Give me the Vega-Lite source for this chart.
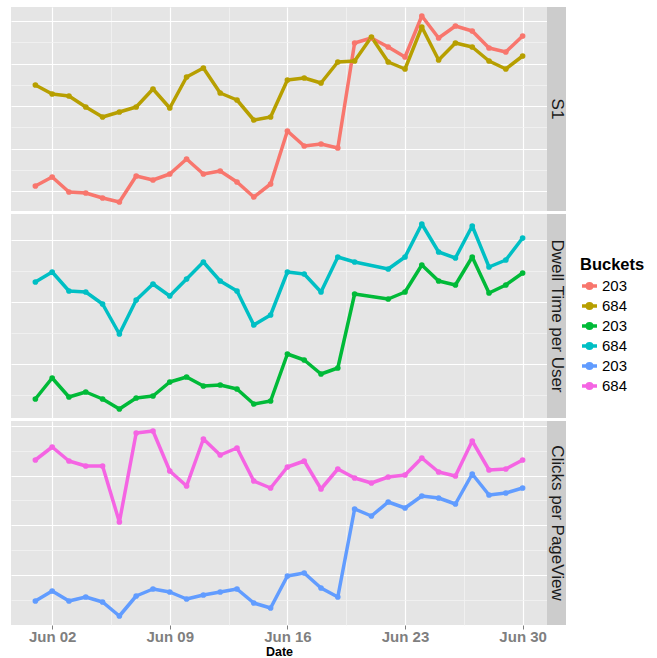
{
  "$schema": "https://vega.github.io/schema/vega-lite/v6.json",
  "padding": {"left": 11, "top": 7, "right": 5, "bottom": 0},
  "background": "white",
  "config": {
    "font": "Liberation Sans",
    "view": {"stroke": null},
    "concat": {"spacing": 3}
  },
  "datasets": {
    "d": [
      {"metric":"S1","bucket":"203","series":"S1 203","date":"2013-06-01","value":25},
      {"metric":"S1","bucket":"203","series":"S1 203","date":"2013-06-02","value":34},
      {"metric":"S1","bucket":"203","series":"S1 203","date":"2013-06-03","value":19},
      {"metric":"S1","bucket":"203","series":"S1 203","date":"2013-06-04","value":18},
      {"metric":"S1","bucket":"203","series":"S1 203","date":"2013-06-05","value":13},
      {"metric":"S1","bucket":"203","series":"S1 203","date":"2013-06-06","value":9},
      {"metric":"S1","bucket":"203","series":"S1 203","date":"2013-06-07","value":35},
      {"metric":"S1","bucket":"203","series":"S1 203","date":"2013-06-08","value":31},
      {"metric":"S1","bucket":"203","series":"S1 203","date":"2013-06-09","value":37},
      {"metric":"S1","bucket":"203","series":"S1 203","date":"2013-06-10","value":52},
      {"metric":"S1","bucket":"203","series":"S1 203","date":"2013-06-11","value":37},
      {"metric":"S1","bucket":"203","series":"S1 203","date":"2013-06-12","value":40},
      {"metric":"S1","bucket":"203","series":"S1 203","date":"2013-06-13","value":29},
      {"metric":"S1","bucket":"203","series":"S1 203","date":"2013-06-14","value":14},
      {"metric":"S1","bucket":"203","series":"S1 203","date":"2013-06-15","value":27},
      {"metric":"S1","bucket":"203","series":"S1 203","date":"2013-06-16","value":80},
      {"metric":"S1","bucket":"203","series":"S1 203","date":"2013-06-17","value":65},
      {"metric":"S1","bucket":"203","series":"S1 203","date":"2013-06-18","value":67},
      {"metric":"S1","bucket":"203","series":"S1 203","date":"2013-06-19","value":63},
      {"metric":"S1","bucket":"203","series":"S1 203","date":"2013-06-20","value":168},
      {"metric":"S1","bucket":"203","series":"S1 203","date":"2013-06-21","value":173},
      {"metric":"S1","bucket":"203","series":"S1 203","date":"2013-06-22","value":164},
      {"metric":"S1","bucket":"203","series":"S1 203","date":"2013-06-23","value":154},
      {"metric":"S1","bucket":"203","series":"S1 203","date":"2013-06-24","value":195},
      {"metric":"S1","bucket":"203","series":"S1 203","date":"2013-06-25","value":173},
      {"metric":"S1","bucket":"203","series":"S1 203","date":"2013-06-26","value":185},
      {"metric":"S1","bucket":"203","series":"S1 203","date":"2013-06-27","value":180},
      {"metric":"S1","bucket":"203","series":"S1 203","date":"2013-06-28","value":163},
      {"metric":"S1","bucket":"203","series":"S1 203","date":"2013-06-29","value":159},
      {"metric":"S1","bucket":"203","series":"S1 203","date":"2013-06-30","value":175},
      {"metric":"S1","bucket":"684","series":"S1 684","date":"2013-06-01","value":126},
      {"metric":"S1","bucket":"684","series":"S1 684","date":"2013-06-02","value":117},
      {"metric":"S1","bucket":"684","series":"S1 684","date":"2013-06-03","value":115},
      {"metric":"S1","bucket":"684","series":"S1 684","date":"2013-06-04","value":104},
      {"metric":"S1","bucket":"684","series":"S1 684","date":"2013-06-05","value":94},
      {"metric":"S1","bucket":"684","series":"S1 684","date":"2013-06-06","value":99},
      {"metric":"S1","bucket":"684","series":"S1 684","date":"2013-06-07","value":104},
      {"metric":"S1","bucket":"684","series":"S1 684","date":"2013-06-08","value":122},
      {"metric":"S1","bucket":"684","series":"S1 684","date":"2013-06-09","value":103},
      {"metric":"S1","bucket":"684","series":"S1 684","date":"2013-06-10","value":134},
      {"metric":"S1","bucket":"684","series":"S1 684","date":"2013-06-11","value":143},
      {"metric":"S1","bucket":"684","series":"S1 684","date":"2013-06-12","value":118},
      {"metric":"S1","bucket":"684","series":"S1 684","date":"2013-06-13","value":111},
      {"metric":"S1","bucket":"684","series":"S1 684","date":"2013-06-14","value":91},
      {"metric":"S1","bucket":"684","series":"S1 684","date":"2013-06-15","value":94},
      {"metric":"S1","bucket":"684","series":"S1 684","date":"2013-06-16","value":131},
      {"metric":"S1","bucket":"684","series":"S1 684","date":"2013-06-17","value":133},
      {"metric":"S1","bucket":"684","series":"S1 684","date":"2013-06-18","value":128},
      {"metric":"S1","bucket":"684","series":"S1 684","date":"2013-06-19","value":149},
      {"metric":"S1","bucket":"684","series":"S1 684","date":"2013-06-20","value":150},
      {"metric":"S1","bucket":"684","series":"S1 684","date":"2013-06-21","value":174},
      {"metric":"S1","bucket":"684","series":"S1 684","date":"2013-06-22","value":149},
      {"metric":"S1","bucket":"684","series":"S1 684","date":"2013-06-23","value":142},
      {"metric":"S1","bucket":"684","series":"S1 684","date":"2013-06-24","value":184},
      {"metric":"S1","bucket":"684","series":"S1 684","date":"2013-06-25","value":151},
      {"metric":"S1","bucket":"684","series":"S1 684","date":"2013-06-26","value":168},
      {"metric":"S1","bucket":"684","series":"S1 684","date":"2013-06-27","value":164},
      {"metric":"S1","bucket":"684","series":"S1 684","date":"2013-06-28","value":150},
      {"metric":"S1","bucket":"684","series":"S1 684","date":"2013-06-29","value":142},
      {"metric":"S1","bucket":"684","series":"S1 684","date":"2013-06-30","value":155},
      {"metric":"Dwell","bucket":"203","series":"Dwell 203","date":"2013-06-01","value":19},
      {"metric":"Dwell","bucket":"203","series":"Dwell 203","date":"2013-06-02","value":40},
      {"metric":"Dwell","bucket":"203","series":"Dwell 203","date":"2013-06-03","value":21},
      {"metric":"Dwell","bucket":"203","series":"Dwell 203","date":"2013-06-04","value":26},
      {"metric":"Dwell","bucket":"203","series":"Dwell 203","date":"2013-06-05","value":19},
      {"metric":"Dwell","bucket":"203","series":"Dwell 203","date":"2013-06-06","value":9},
      {"metric":"Dwell","bucket":"203","series":"Dwell 203","date":"2013-06-07","value":20},
      {"metric":"Dwell","bucket":"203","series":"Dwell 203","date":"2013-06-08","value":22},
      {"metric":"Dwell","bucket":"203","series":"Dwell 203","date":"2013-06-09","value":36},
      {"metric":"Dwell","bucket":"203","series":"Dwell 203","date":"2013-06-10","value":41},
      {"metric":"Dwell","bucket":"203","series":"Dwell 203","date":"2013-06-11","value":32},
      {"metric":"Dwell","bucket":"203","series":"Dwell 203","date":"2013-06-12","value":33},
      {"metric":"Dwell","bucket":"203","series":"Dwell 203","date":"2013-06-13","value":29},
      {"metric":"Dwell","bucket":"203","series":"Dwell 203","date":"2013-06-14","value":14},
      {"metric":"Dwell","bucket":"203","series":"Dwell 203","date":"2013-06-15","value":17},
      {"metric":"Dwell","bucket":"203","series":"Dwell 203","date":"2013-06-16","value":64},
      {"metric":"Dwell","bucket":"203","series":"Dwell 203","date":"2013-06-17","value":58},
      {"metric":"Dwell","bucket":"203","series":"Dwell 203","date":"2013-06-18","value":44},
      {"metric":"Dwell","bucket":"203","series":"Dwell 203","date":"2013-06-19","value":50},
      {"metric":"Dwell","bucket":"203","series":"Dwell 203","date":"2013-06-20","value":124},
      {"metric":"Dwell","bucket":"203","series":"Dwell 203","date":"2013-06-22","value":119},
      {"metric":"Dwell","bucket":"203","series":"Dwell 203","date":"2013-06-23","value":126},
      {"metric":"Dwell","bucket":"203","series":"Dwell 203","date":"2013-06-24","value":153},
      {"metric":"Dwell","bucket":"203","series":"Dwell 203","date":"2013-06-25","value":137},
      {"metric":"Dwell","bucket":"203","series":"Dwell 203","date":"2013-06-26","value":133},
      {"metric":"Dwell","bucket":"203","series":"Dwell 203","date":"2013-06-27","value":161},
      {"metric":"Dwell","bucket":"203","series":"Dwell 203","date":"2013-06-28","value":125},
      {"metric":"Dwell","bucket":"203","series":"Dwell 203","date":"2013-06-29","value":133},
      {"metric":"Dwell","bucket":"203","series":"Dwell 203","date":"2013-06-30","value":145},
      {"metric":"Dwell","bucket":"684","series":"Dwell 684","date":"2013-06-01","value":136},
      {"metric":"Dwell","bucket":"684","series":"Dwell 684","date":"2013-06-02","value":146},
      {"metric":"Dwell","bucket":"684","series":"Dwell 684","date":"2013-06-03","value":127},
      {"metric":"Dwell","bucket":"684","series":"Dwell 684","date":"2013-06-04","value":126},
      {"metric":"Dwell","bucket":"684","series":"Dwell 684","date":"2013-06-05","value":114},
      {"metric":"Dwell","bucket":"684","series":"Dwell 684","date":"2013-06-06","value":84},
      {"metric":"Dwell","bucket":"684","series":"Dwell 684","date":"2013-06-07","value":118},
      {"metric":"Dwell","bucket":"684","series":"Dwell 684","date":"2013-06-08","value":134},
      {"metric":"Dwell","bucket":"684","series":"Dwell 684","date":"2013-06-09","value":122},
      {"metric":"Dwell","bucket":"684","series":"Dwell 684","date":"2013-06-10","value":139},
      {"metric":"Dwell","bucket":"684","series":"Dwell 684","date":"2013-06-11","value":156},
      {"metric":"Dwell","bucket":"684","series":"Dwell 684","date":"2013-06-12","value":137},
      {"metric":"Dwell","bucket":"684","series":"Dwell 684","date":"2013-06-13","value":127},
      {"metric":"Dwell","bucket":"684","series":"Dwell 684","date":"2013-06-14","value":93},
      {"metric":"Dwell","bucket":"684","series":"Dwell 684","date":"2013-06-15","value":103},
      {"metric":"Dwell","bucket":"684","series":"Dwell 684","date":"2013-06-16","value":146},
      {"metric":"Dwell","bucket":"684","series":"Dwell 684","date":"2013-06-17","value":144},
      {"metric":"Dwell","bucket":"684","series":"Dwell 684","date":"2013-06-18","value":126},
      {"metric":"Dwell","bucket":"684","series":"Dwell 684","date":"2013-06-19","value":161},
      {"metric":"Dwell","bucket":"684","series":"Dwell 684","date":"2013-06-20","value":156},
      {"metric":"Dwell","bucket":"684","series":"Dwell 684","date":"2013-06-22","value":149},
      {"metric":"Dwell","bucket":"684","series":"Dwell 684","date":"2013-06-23","value":161},
      {"metric":"Dwell","bucket":"684","series":"Dwell 684","date":"2013-06-24","value":194},
      {"metric":"Dwell","bucket":"684","series":"Dwell 684","date":"2013-06-25","value":166},
      {"metric":"Dwell","bucket":"684","series":"Dwell 684","date":"2013-06-26","value":160},
      {"metric":"Dwell","bucket":"684","series":"Dwell 684","date":"2013-06-27","value":192},
      {"metric":"Dwell","bucket":"684","series":"Dwell 684","date":"2013-06-28","value":151},
      {"metric":"Dwell","bucket":"684","series":"Dwell 684","date":"2013-06-29","value":158},
      {"metric":"Dwell","bucket":"684","series":"Dwell 684","date":"2013-06-30","value":180},
      {"metric":"Clicks","bucket":"203","series":"Clicks 203","date":"2013-06-01","value":24},
      {"metric":"Clicks","bucket":"203","series":"Clicks 203","date":"2013-06-02","value":34},
      {"metric":"Clicks","bucket":"203","series":"Clicks 203","date":"2013-06-03","value":24},
      {"metric":"Clicks","bucket":"203","series":"Clicks 203","date":"2013-06-04","value":28},
      {"metric":"Clicks","bucket":"203","series":"Clicks 203","date":"2013-06-05","value":23},
      {"metric":"Clicks","bucket":"203","series":"Clicks 203","date":"2013-06-06","value":9},
      {"metric":"Clicks","bucket":"203","series":"Clicks 203","date":"2013-06-07","value":29},
      {"metric":"Clicks","bucket":"203","series":"Clicks 203","date":"2013-06-08","value":36},
      {"metric":"Clicks","bucket":"203","series":"Clicks 203","date":"2013-06-09","value":33},
      {"metric":"Clicks","bucket":"203","series":"Clicks 203","date":"2013-06-10","value":26},
      {"metric":"Clicks","bucket":"203","series":"Clicks 203","date":"2013-06-11","value":30},
      {"metric":"Clicks","bucket":"203","series":"Clicks 203","date":"2013-06-12","value":33},
      {"metric":"Clicks","bucket":"203","series":"Clicks 203","date":"2013-06-13","value":36},
      {"metric":"Clicks","bucket":"203","series":"Clicks 203","date":"2013-06-14","value":22},
      {"metric":"Clicks","bucket":"203","series":"Clicks 203","date":"2013-06-15","value":17},
      {"metric":"Clicks","bucket":"203","series":"Clicks 203","date":"2013-06-16","value":49},
      {"metric":"Clicks","bucket":"203","series":"Clicks 203","date":"2013-06-17","value":52},
      {"metric":"Clicks","bucket":"203","series":"Clicks 203","date":"2013-06-18","value":37},
      {"metric":"Clicks","bucket":"203","series":"Clicks 203","date":"2013-06-19","value":28},
      {"metric":"Clicks","bucket":"203","series":"Clicks 203","date":"2013-06-20","value":116},
      {"metric":"Clicks","bucket":"203","series":"Clicks 203","date":"2013-06-21","value":109},
      {"metric":"Clicks","bucket":"203","series":"Clicks 203","date":"2013-06-22","value":123},
      {"metric":"Clicks","bucket":"203","series":"Clicks 203","date":"2013-06-23","value":117},
      {"metric":"Clicks","bucket":"203","series":"Clicks 203","date":"2013-06-24","value":129},
      {"metric":"Clicks","bucket":"203","series":"Clicks 203","date":"2013-06-25","value":127},
      {"metric":"Clicks","bucket":"203","series":"Clicks 203","date":"2013-06-26","value":121},
      {"metric":"Clicks","bucket":"203","series":"Clicks 203","date":"2013-06-27","value":151},
      {"metric":"Clicks","bucket":"203","series":"Clicks 203","date":"2013-06-28","value":130},
      {"metric":"Clicks","bucket":"203","series":"Clicks 203","date":"2013-06-29","value":132},
      {"metric":"Clicks","bucket":"203","series":"Clicks 203","date":"2013-06-30","value":137},
      {"metric":"Clicks","bucket":"684","series":"Clicks 684","date":"2013-06-01","value":165},
      {"metric":"Clicks","bucket":"684","series":"Clicks 684","date":"2013-06-02","value":178},
      {"metric":"Clicks","bucket":"684","series":"Clicks 684","date":"2013-06-03","value":164},
      {"metric":"Clicks","bucket":"684","series":"Clicks 684","date":"2013-06-04","value":159},
      {"metric":"Clicks","bucket":"684","series":"Clicks 684","date":"2013-06-05","value":159},
      {"metric":"Clicks","bucket":"684","series":"Clicks 684","date":"2013-06-06","value":103},
      {"metric":"Clicks","bucket":"684","series":"Clicks 684","date":"2013-06-07","value":192},
      {"metric":"Clicks","bucket":"684","series":"Clicks 684","date":"2013-06-08","value":194},
      {"metric":"Clicks","bucket":"684","series":"Clicks 684","date":"2013-06-09","value":154},
      {"metric":"Clicks","bucket":"684","series":"Clicks 684","date":"2013-06-10","value":139},
      {"metric":"Clicks","bucket":"684","series":"Clicks 684","date":"2013-06-11","value":186},
      {"metric":"Clicks","bucket":"684","series":"Clicks 684","date":"2013-06-12","value":170},
      {"metric":"Clicks","bucket":"684","series":"Clicks 684","date":"2013-06-13","value":177},
      {"metric":"Clicks","bucket":"684","series":"Clicks 684","date":"2013-06-14","value":144},
      {"metric":"Clicks","bucket":"684","series":"Clicks 684","date":"2013-06-15","value":137},
      {"metric":"Clicks","bucket":"684","series":"Clicks 684","date":"2013-06-16","value":158},
      {"metric":"Clicks","bucket":"684","series":"Clicks 684","date":"2013-06-17","value":164},
      {"metric":"Clicks","bucket":"684","series":"Clicks 684","date":"2013-06-18","value":136},
      {"metric":"Clicks","bucket":"684","series":"Clicks 684","date":"2013-06-19","value":156},
      {"metric":"Clicks","bucket":"684","series":"Clicks 684","date":"2013-06-20","value":147},
      {"metric":"Clicks","bucket":"684","series":"Clicks 684","date":"2013-06-21","value":142},
      {"metric":"Clicks","bucket":"684","series":"Clicks 684","date":"2013-06-22","value":148},
      {"metric":"Clicks","bucket":"684","series":"Clicks 684","date":"2013-06-23","value":150},
      {"metric":"Clicks","bucket":"684","series":"Clicks 684","date":"2013-06-24","value":167},
      {"metric":"Clicks","bucket":"684","series":"Clicks 684","date":"2013-06-25","value":153},
      {"metric":"Clicks","bucket":"684","series":"Clicks 684","date":"2013-06-26","value":149},
      {"metric":"Clicks","bucket":"684","series":"Clicks 684","date":"2013-06-27","value":184},
      {"metric":"Clicks","bucket":"684","series":"Clicks 684","date":"2013-06-28","value":155},
      {"metric":"Clicks","bucket":"684","series":"Clicks 684","date":"2013-06-29","value":156},
      {"metric":"Clicks","bucket":"684","series":"Clicks 684","date":"2013-06-30","value":165}
    ]
  },
  "resolve": {"scale": {"x": "independent", "y": "independent", "color": "shared"}},
  "vconcat": [
    {
      "spacing": 0,
      "resolve": {"scale": {"x": "independent", "y": "independent", "color": "shared"}},
      "hconcat": [
        {
          "width": 536, "height": 204,
          "view": {"fill": "#E5E5E5", "stroke": null},
          "data": {"name": "d"},
          "transform": [{"filter": "datum.metric == 'S1'"}],
          "encoding": {
            "x": {"field": "date", "type": "temporal",
              "scale": {"type": "utc", "nice": false, "domain": [{"year": 2013, "month": 5, "date": 30, "hours": 13, "minutes": 12, "utc": true}, {"year": 2013, "month": 7, "date": 1, "hours": 10, "minutes": 48, "utc": true}]},
              "axis": {"labels": false, "ticks": false, "domain": false, "title": null, "minExtent": 0,
                "values": [{"year":2013,"month":6,"date":2,"utc":true},{"year":2013,"month":6,"date":5,"hours":12,"utc":true},{"year":2013,"month":6,"date":9,"utc":true},{"year":2013,"month":6,"date":12,"hours":12,"utc":true},{"year":2013,"month":6,"date":16,"utc":true},{"year":2013,"month":6,"date":19,"hours":12,"utc":true},{"year":2013,"month":6,"date":23,"utc":true},{"year":2013,"month":6,"date":26,"hours":12,"utc":true},{"year":2013,"month":6,"date":30,"utc":true}],
                "gridColor": {"condition": {"test": "utchours(datum.value) == 12", "value": "#F2F2F2"}, "value": "#FFFFFF"},
                "gridWidth": {"condition": {"test": "utchours(datum.value) == 12", "value": 0.8}, "value": 1.2}}},
            "y": {"field": "value", "type": "quantitative",
              "scale": {"domain": [0, 204], "nice": false, "zero": false},
              "axis": {"labels": false, "ticks": false, "domain": false, "title": null, "minExtent": 0,
                "values": [20, 41.25, 62.5, 83.75, 105, 126.25, 147.5, 168.75, 190],
                "gridColor": {"condition": {"test": "indexof([41.25, 83.75, 126.25, 168.75], datum.value) >= 0", "value": "#F2F2F2"}, "value": "#FFFFFF"},
                "gridWidth": {"condition": {"test": "indexof([41.25, 83.75, 126.25, 168.75], datum.value) >= 0", "value": 0.8}, "value": 1.2}}},
            "color": {"field": "series", "type": "nominal",
              "scale": {"domain": ["S1 203", "S1 684", "Dwell 203", "Dwell 684", "Clicks 203", "Clicks 684"], "range": ["#F8766D", "#B79F00", "#00BA38", "#00BFC4", "#619CFF", "#F564E3"]},
              "legend": {"orient": "none", "legendX": 569, "legendY": 250, "title": "Buckets",
                "titleFontSize": 16.5, "titleFontWeight": "bold", "titleColor": "black", "titlePadding": 3,
                "labelFontSize": 15, "labelColor": "black", "labelOffset": 3, "rowPadding": 1,
                "labelExpr": "slice(datum.label, -3)",
                "symbolType": "M-1,0H1M-0.3,0A0.3,0.3,0,1,1,0.3,0A0.3,0.3,0,1,1,-0.3,0",
                "symbolSize": 225, "symbolStrokeWidth": 3.5,
                "encode": {"symbols": {"update": {"stroke": {"scale": "color", "field": "value"}, "strokeWidth": {"value": 3.5}}}}}}
          },
          "layer": [
            {"mark": {"type": "line", "strokeWidth": 3.5, "strokeJoin": "round"}},
            {"mark": {"type": "point", "filled": true, "size": 32, "opacity": 1}}
          ]
        },
        {
          "width": 19, "height": 204,
          "view": {"stroke": null},
          "data": {"values": [{"label": "S1"}]},
          "encoding": {
            "x": {"field": "label", "type": "nominal", "axis": null, "scale": {"paddingInner": 0, "paddingOuter": 0}},
            "y": {"field": "label", "type": "nominal", "axis": null, "scale": {"paddingInner": 0, "paddingOuter": 0}}
          },
          "layer": [
            {"mark": {"type": "rect", "fill": "#CCCCCC"}},
            {"mark": {"type": "text", "angle": 90, "fontSize": 17, "color": "#1A1A1A", "align": "center", "baseline": "middle"}, "encoding": {"text": {"field": "label"}}}
          ]
        }
      ]
    },
    {
      "spacing": 0,
      "resolve": {"scale": {"x": "independent", "y": "independent", "color": "shared"}},
      "hconcat": [
        {
          "width": 536, "height": 204,
          "view": {"fill": "#E5E5E5", "stroke": null},
          "data": {"name": "d"},
          "transform": [{"filter": "datum.metric == 'Dwell'"}],
          "encoding": {
            "x": {"field": "date", "type": "temporal",
              "scale": {"type": "utc", "nice": false, "domain": [{"year": 2013, "month": 5, "date": 30, "hours": 13, "minutes": 12, "utc": true}, {"year": 2013, "month": 7, "date": 1, "hours": 10, "minutes": 48, "utc": true}]},
              "axis": {"labels": false, "ticks": false, "domain": false, "title": null, "minExtent": 0,
                "values": [{"year":2013,"month":6,"date":2,"utc":true},{"year":2013,"month":6,"date":5,"hours":12,"utc":true},{"year":2013,"month":6,"date":9,"utc":true},{"year":2013,"month":6,"date":12,"hours":12,"utc":true},{"year":2013,"month":6,"date":16,"utc":true},{"year":2013,"month":6,"date":19,"hours":12,"utc":true},{"year":2013,"month":6,"date":23,"utc":true},{"year":2013,"month":6,"date":26,"hours":12,"utc":true},{"year":2013,"month":6,"date":30,"utc":true}],
                "gridColor": {"condition": {"test": "utchours(datum.value) == 12", "value": "#F2F2F2"}, "value": "#FFFFFF"},
                "gridWidth": {"condition": {"test": "utchours(datum.value) == 12", "value": 0.8}, "value": 1.2}}},
            "y": {"field": "value", "type": "quantitative",
              "scale": {"domain": [0, 204], "nice": false, "zero": false},
              "axis": {"labels": false, "ticks": false, "domain": false, "title": null, "minExtent": 0,
                "values": [23, 54, 85, 116, 147, 178],
                "gridColor": {"condition": {"test": "indexof([23, 85, 147], datum.value) >= 0", "value": "#F2F2F2"}, "value": "#FFFFFF"},
                "gridWidth": {"condition": {"test": "indexof([23, 85, 147], datum.value) >= 0", "value": 0.8}, "value": 1.2}}},
            "color": {"field": "series", "type": "nominal",
              "scale": {"domain": ["S1 203", "S1 684", "Dwell 203", "Dwell 684", "Clicks 203", "Clicks 684"], "range": ["#F8766D", "#B79F00", "#00BA38", "#00BFC4", "#619CFF", "#F564E3"]}}
          },
          "layer": [
            {"mark": {"type": "line", "strokeWidth": 3.5, "strokeJoin": "round"}},
            {"mark": {"type": "point", "filled": true, "size": 32, "opacity": 1}}
          ]
        },
        {
          "width": 19, "height": 204,
          "view": {"stroke": null},
          "data": {"values": [{"label": "Dwell Time per User"}]},
          "encoding": {
            "x": {"field": "label", "type": "nominal", "axis": null, "scale": {"paddingInner": 0, "paddingOuter": 0}},
            "y": {"field": "label", "type": "nominal", "axis": null, "scale": {"paddingInner": 0, "paddingOuter": 0}}
          },
          "layer": [
            {"mark": {"type": "rect", "fill": "#CCCCCC"}},
            {"mark": {"type": "text", "angle": 90, "fontSize": 17, "color": "#1A1A1A", "align": "center", "baseline": "middle"}, "encoding": {"text": {"field": "label"}}}
          ]
        }
      ]
    },
    {
      "spacing": 0,
      "resolve": {"scale": {"x": "independent", "y": "independent", "color": "shared"}},
      "hconcat": [
        {
          "width": 536, "height": 204,
          "view": {"fill": "#E5E5E5", "stroke": null},
          "data": {"name": "d"},
          "transform": [{"filter": "datum.metric == 'Clicks'"}],
          "encoding": {
            "x": {"field": "date", "type": "temporal",
              "scale": {"type": "utc", "nice": false, "domain": [{"year": 2013, "month": 5, "date": 30, "hours": 13, "minutes": 12, "utc": true}, {"year": 2013, "month": 7, "date": 1, "hours": 10, "minutes": 48, "utc": true}]},
              "axis": {"domain": false, "title": "Date", "titleFontSize": 12.5, "titleFontWeight": "bold", "titleColor": "black", "titlePadding": 1.5,
                "labelExpr": "utchours(datum.value) == 12 ? '' : utcFormat(datum.value, '%b %d')",
                "labelFontSize": 15, "labelFontWeight": "bold", "labelColor": "#7F7F7F", "labelPadding": 0,
                "labelOverlap": false, "labelFlush": false, "tickSize": 4, "tickWidth": 1,
                "tickColor": {"condition": {"test": "utchours(datum.value) == 12", "value": "transparent"}, "value": "#7F7F7F"},
                "values": [{"year":2013,"month":6,"date":2,"utc":true},{"year":2013,"month":6,"date":5,"hours":12,"utc":true},{"year":2013,"month":6,"date":9,"utc":true},{"year":2013,"month":6,"date":12,"hours":12,"utc":true},{"year":2013,"month":6,"date":16,"utc":true},{"year":2013,"month":6,"date":19,"hours":12,"utc":true},{"year":2013,"month":6,"date":23,"utc":true},{"year":2013,"month":6,"date":26,"hours":12,"utc":true},{"year":2013,"month":6,"date":30,"utc":true}],
                "gridColor": {"condition": {"test": "utchours(datum.value) == 12", "value": "#F2F2F2"}, "value": "#FFFFFF"},
                "gridWidth": {"condition": {"test": "utchours(datum.value) == 12", "value": 0.8}, "value": 1.2}}},
            "y": {"field": "value", "type": "quantitative",
              "scale": {"domain": [0, 204], "nice": false, "zero": false},
              "axis": {"labels": false, "ticks": false, "domain": false, "title": null, "minExtent": 0,
                "values": [25, 50, 75, 100, 125, 149, 174, 199],
                "gridColor": {"condition": {"test": "indexof([25, 75, 125, 174], datum.value) >= 0", "value": "#F2F2F2"}, "value": "#FFFFFF"},
                "gridWidth": {"condition": {"test": "indexof([25, 75, 125, 174], datum.value) >= 0", "value": 0.8}, "value": 1.2}}},
            "color": {"field": "series", "type": "nominal",
              "scale": {"domain": ["S1 203", "S1 684", "Dwell 203", "Dwell 684", "Clicks 203", "Clicks 684"], "range": ["#F8766D", "#B79F00", "#00BA38", "#00BFC4", "#619CFF", "#F564E3"]}}
          },
          "layer": [
            {"mark": {"type": "line", "strokeWidth": 3.5, "strokeJoin": "round"}},
            {"mark": {"type": "point", "filled": true, "size": 32, "opacity": 1}}
          ]
        },
        {
          "width": 19, "height": 204,
          "view": {"stroke": null},
          "data": {"values": [{"label": "Clicks per PageView"}]},
          "encoding": {
            "x": {"field": "label", "type": "nominal", "axis": null, "scale": {"paddingInner": 0, "paddingOuter": 0}},
            "y": {"field": "label", "type": "nominal", "axis": null, "scale": {"paddingInner": 0, "paddingOuter": 0}}
          },
          "layer": [
            {"mark": {"type": "rect", "fill": "#CCCCCC"}},
            {"mark": {"type": "text", "angle": 90, "fontSize": 17, "color": "#1A1A1A", "align": "center", "baseline": "middle"}, "encoding": {"text": {"field": "label"}}}
          ]
        }
      ]
    }
  ]
}
